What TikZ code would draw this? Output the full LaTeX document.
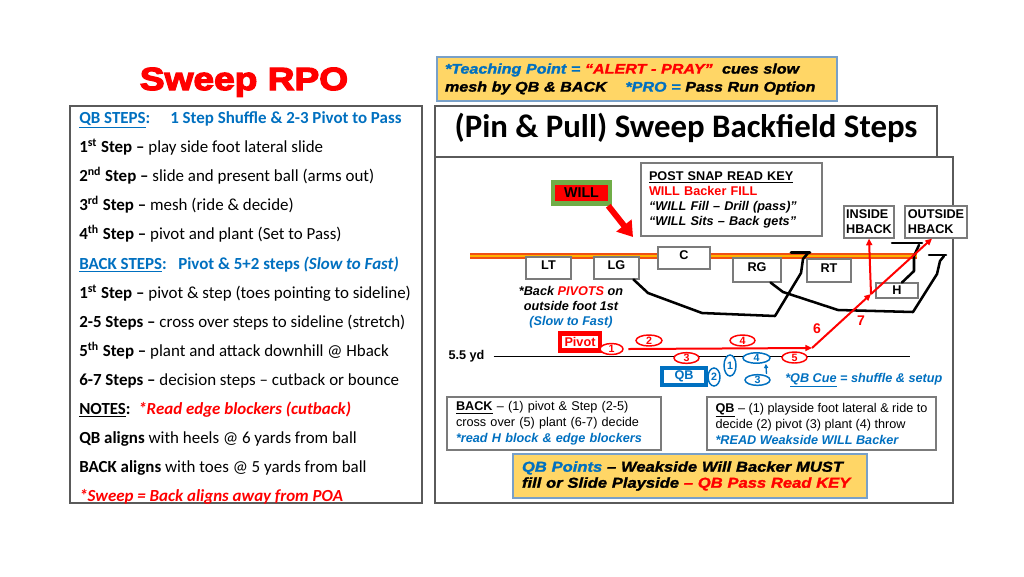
\documentclass[tikz,border=0pt]{standalone}
\usepackage{fontspec}
\setmainfont{Liberation Sans}
\newfontfamily\carl{Carlito}
\newfontfamily\titlef{Liberation Sans}[BoldFeatures={FakeBold=4,FakeStretch=1.16}]
\newfontfamily\heavyf{Liberation Sans}[BoldItalicFeatures={FakeBold=1.5,FakeStretch=1.15}]
\usetikzlibrary{arrows.meta,shapes.geometric,calc}
\definecolor{myblue}{RGB}{0,112,192}
\definecolor{myred}{RGB}{255,0,0}
\definecolor{myyellow}{RGB}{255,214,102}
\definecolor{mygreen}{RGB}{112,173,71}
\definecolor{boxgray}{RGB}{90,90,90}
\definecolor{losout}{RGB}{240,80,20}
\definecolor{losin}{RGB}{255,180,0}
\definecolor{tpborder}{RGB}{120,160,200}
\begin{document}
\begin{tikzpicture}[x=0.75pt,y=-0.75pt,
 lp/.style={anchor=base west, inner sep=0pt, font=\carl\fontsize{12.7}{15}\selectfont},
 panel/.style={draw=boxgray, line width=0.9pt},
 oline/.style={draw=boxgray!80, fill=white, line width=0.8pt, inner sep=0pt, font=\bfseries\fontsize{9.5}{11.25}\selectfont},
 tbox/.style={draw=boxgray!80, fill=white, line width=0.8pt, align=left, font=\fontsize{9.5}{12}\selectfont},
 ybox/.style={draw=tpborder, fill=myyellow, line width=1pt, align=left},
 blk/.style={line width=1.9pt, line join=round, line cap=round},
 redarr/.style={myred, line width=1.5pt, -{Triangle[length=5pt,width=4.5pt]}},
 rnum/.style={ellipse, draw=myred, fill=white, line width=1.1pt, inner sep=0pt, text=myred, minimum width=18.75pt, minimum height=8.25pt, font=\bfseries\fontsize{8}{8}\selectfont},
 bnum/.style={ellipse, draw=myblue, fill=white, line width=1.1pt, inner sep=0pt, text=myblue, font=\bfseries\fontsize{8}{8}\selectfont},
 dtxt/.style={inner sep=0pt, font=\fontsize{9.5}{11.25}\selectfont},
]
\fill[white] (0,0) rectangle (1024,576);
\useasboundingbox (0,0) rectangle (1024,576);

% ---------- titles ----------
\node[anchor=base, font=\titlef\bfseries\fontsize{24}{26}\selectfont, text=myred, inner sep=0pt] (TTL) at (244,90) {Sweep RPO};

\node[ybox, minimum width=300pt, minimum height=33pt, text width=288pt, inner xsep=6pt,
 font=\heavyf\bfseries\itshape\fontsize{10.5}{13.5}\selectfont] (TP) at (637,79)
 {\textcolor{myblue}{*Teaching Point =} \textcolor{myred}{“ALERT - PRAY”}\ \ cues slow\\
  mesh by QB \& BACK\ \ \ \ \textcolor{myblue}{*PRO =} Pass Run Option};

% ---------- panels ----------
\draw[panel] (70,106) rectangle (422,503);
\draw[panel] (435,157) rectangle (953,503);
\draw[panel] (435,106) rectangle (937,157);
\node[anchor=base, font=\carl\bfseries\fontsize{24.6}{27}\selectfont, inner sep=0pt] (PP) at (686,137) {(Pin \& Pull) Sweep Backfield Steps};

% ---------- left panel text ----------
\node[lp] (q1) at (79,123.5) {\bfseries\color{myblue}\underline{QB STEPS}:};
\node[lp] (q1b) at (170,123.5) {\bfseries\color{myblue}1 Step Shuffle \& 2-3 Pivot to Pass};
\node[lp] (q2) at (79,152.5) {\textbf{1\textsuperscript{st} Step –} play side foot lateral slide};
\node[lp] (q3) at (79,181.5) {\textbf{2\textsuperscript{nd} Step –} slide and present ball (arms out)};
\node[lp] (q4) at (79,210.5) {\textbf{3\textsuperscript{rd} Step –} mesh (ride \& decide)};
\node[lp] (q5) at (79,239.5) {\textbf{4\textsuperscript{th} Step –} pivot and plant (Set to Pass)};
\node[lp] (b0) at (79,269.5) {\bfseries\color{myblue}\underline{BACK STEPS}:};
\node[lp] (b0b) at (178,269.5) {\bfseries\color{myblue}Pivot \& 5+2 steps \textit{(Slow to Fast)}};
\node[lp] (b1) at (79,298.5) {\textbf{1\textsuperscript{st} Step –} pivot \& step (toes pointing to sideline)};
\node[lp] (b2) at (79,327.5) {\textbf{2-5 Steps –} cross over steps to sideline (stretch)};
\node[lp] (b3) at (79,356.5) {\textbf{5\textsuperscript{th} Step –} plant and attack downhill @ Hback};
\node[lp] (b4) at (79,385.5) {\textbf{6-7 Steps –} decision steps – cutback or bounce};
\node[lp] (n0) at (79,414.5) {\textbf{\underline{NOTES}:}\ \ \textcolor{myred}{\bfseries\itshape *Read edge blockers (cutback)}};
\node[lp] (n1) at (79,443.5) {\textbf{QB aligns} with heels @ 6 yards from ball};
\node[lp] (n2) at (79,472.5) {\textbf{BACK aligns} with toes @ 5 yards from ball};
\node[lp] (n3) at (79,501.5) {\textcolor{myred}{\bfseries\itshape *Sweep = Back aligns away from POA}};

% ---------- line of scrimmage ----------
\coordinate (los1) at (470,256);
\coordinate (los2) at (917,256);
\draw[losout, line width=4.5pt] (los1) -- (los2);
\draw[losin, line width=2.2pt] (los1) -- (los2);

% ---------- read key box & WILL ----------
\node[tbox, minimum width=135.75pt, minimum height=54.75pt, text width=123.75pt, inner xsep=6pt,
 font=\fontsize{9.5}{11.25}\selectfont] (PSK) at (731.5,199.5)
 {\textbf{\underline{POST SNAP READ KEY}}\\
  \textcolor{myred}{\textbf{WILL Backer FILL}}\\
  \textbf{\textit{“WILL Fill – Drill (pass)”}}\\
  \textbf{\textit{“WILL Sits – Back gets”}}};

\node[fill=myred, draw=mygreen, line width=3.4pt, minimum width=42.75pt, minimum height=15.75pt, inner sep=0pt,
 font=\bfseries\fontsize{10.7}{12}\selectfont] (WILL) at (581.5,193) {WILL};
\coordinate (willtip) at (633,237);
\draw[myred, line width=4.5pt, -{Triangle[length=11pt,width=14pt]}] ([xshift=-3pt]WILL.south east) -- (willtip);

% ---------- linemen ----------
\node[oline, minimum width=33.75pt, minimum height=16.5pt, text depth=4.5pt] (LT) at (548.5,268) {LT};
\node[oline, minimum width=33.75pt, minimum height=16.5pt, text depth=4.5pt] (LG) at (616.5,268) {LG};
\node[oline, minimum width=39pt, minimum height=16.5pt, text depth=4.5pt] (C) at (684,258) {C};
\node[oline, minimum width=36pt, minimum height=18pt, text depth=4.5pt] (RG) at (757,270) {RG};
\node[oline, minimum width=33pt, minimum height=17.25pt, text depth=3.5pt] (RT) at (829,270.5) {RT};
\node[oline, minimum width=31.5pt, minimum height=11.25pt] (H) at (897,290.5) {H};
\node[oline, minimum width=37.5pt, minimum height=24pt, align=left] (IH) at (869,222) {INSIDE\\HBACK};
\node[oline, minimum width=46.5pt, minimum height=24pt, align=left] (OH) at (936,222) {OUTSIDE\\HBACK};

% ---------- blocking paths ----------
\coordinate (lgblk) at (808,253);
\coordinate (rgblk) at (944,256);
\coordinate (hblk) at (919,245);
\draw[blk] ([xshift=-4.5pt]LG.south east) -- (648,293) -- (702,313) -- (775,316) -- (801,273) -- (803,259) -- (lgblk);
\draw[blk] (791,252.5) -- (810,252.5);
\draw[blk] ([xshift=-8.25pt]RG.south east) -- (783,292) -- (838,310) -- (913,312) -- (937,274) -- (940,261) -- (rgblk);
\draw[blk] (929,255) -- (946,255);
\draw[blk] ([xshift=3.75pt]H.north) -- (914,271) -- (914,256) -- (hblk);
\draw[blk] (892,243) -- (922,243);

% ---------- yard line ----------
\node[dtxt, font=\bfseries\fontsize{9.5}{11}\selectfont] (yd) at (466.5,356) {5.5 yd};
\coordinate (ydend) at (910,356);
\draw[line width=0.75pt] ([xshift=6.75pt]yd.east) -- (ydend);

% ---------- back path ----------
\node[draw=myred, line width=3.4pt, fill=white, minimum width=30pt, minimum height=12.5pt, inner sep=0pt,
 text=myred, font=\bfseries\fontsize{9.5}{10}\selectfont] (PIV) at (580,342) {Pivot};
\node[rnum, minimum width=17.25pt] (r1) at (611.5,349) {1};
\node[rnum, minimum width=19.5pt] (r2) at (649,340.5) {2};
\node[rnum, minimum height=7.5pt] (r3) at (686.5,358) {3};
\node[rnum] (r4) at (742.5,340.5) {4};
\node[rnum] (r5) at (794.5,357.5) {5};

\coordinate (turn) at (812,348);
\coordinate (hpt) at (871,294);
\draw[redarr] ([xshift=3.5pt]r1.east) -- (turn);
\draw[redarr] (turn) -- (hpt);
\draw[redarr] (hpt) -- (IH.south);
\draw[redarr] (hpt) -- ([xshift=-3pt]OH.south);
\node[inner sep=0pt, text=myred, font=\bfseries\fontsize{10.5}{11}\selectfont] (l6) at (817,329) {6};
\node[inner sep=0pt, text=myred, font=\bfseries\fontsize{10.5}{11}\selectfont] (l7) at (861,321) {7};

\node[dtxt, font=\bfseries\itshape\fontsize{9.5}{11.25}\selectfont, align=center] (bpiv) at (571,307)
 {*Back \textcolor{myred}{PIVOTS} on\\outside foot 1st\\\textcolor{myblue}{(Slow to Fast)}};

% ---------- QB ----------
\node[draw=myblue, line width=3pt, fill=white, minimum width=33pt, minimum height=12.75pt, inner sep=0pt,
 text=myblue, font=\bfseries\fontsize{9.5}{10}\selectfont] (QB) at (684,376.5) {QB};
\node[bnum, minimum width=9pt, minimum height=13.5pt] (bb2) at (714,377) {2};
\node[bnum, minimum width=9pt, minimum height=15.75pt] (bb1) at (730,365.5) {1};
\node[bnum, minimum width=20.25pt, minimum height=7.5pt] (bb4) at (756.5,358) {4};
\node[bnum, minimum width=18.75pt, minimum height=7.5pt] (bb3) at (757.5,380) {3};
\draw[myblue, line width=1pt, -{Triangle[length=3pt,width=3pt]}] ([xshift=6.75pt]bb3.north) -- ([xshift=7pt]bb4.south);
\node[dtxt, anchor=west, text=myblue, font=\bfseries\itshape\fontsize{9.5}{11}\selectfont] (qbcue) at (785,380)
 {*\underline{QB Cue} = shuffle \& setup};

% ---------- bottom boxes ----------
\node[tbox, minimum width=160.5pt, minimum height=39.75pt, text width=147pt, inner xsep=6.75pt] (BK) at (554,423.5)
 {\textbf{\underline{BACK}} – (1) pivot \& Step (2-5)\\
  cross over (5) plant (6-7) decide\\
  \textcolor{myblue}{\bfseries\itshape *read H block \& edge blockers}};
\node[tbox, minimum width=171.75pt, minimum height=39.75pt, inner xsep=2pt] (QBX) at (821.5,423.5)
 {\textbf{\underline{QB}} – (1) playside foot lateral \& ride to\\
  decide (2) pivot (3) plant (4) throw\\
  \textcolor{myblue}{\bfseries\itshape *READ Weakside WILL Backer}};
\node[ybox, minimum width=265.5pt, minimum height=33pt, text width=252pt, inner xsep=6.75pt,
 font=\heavyf\bfseries\itshape\fontsize{10.8}{12}\selectfont] (QP) at (690,476)
 {\textcolor{myblue}{QB Points} – Weakside Will Backer MUST\\
  fill or Slide Playside \textcolor{myred}{– QB Pass Read KEY}};
\end{tikzpicture}
\end{document}
